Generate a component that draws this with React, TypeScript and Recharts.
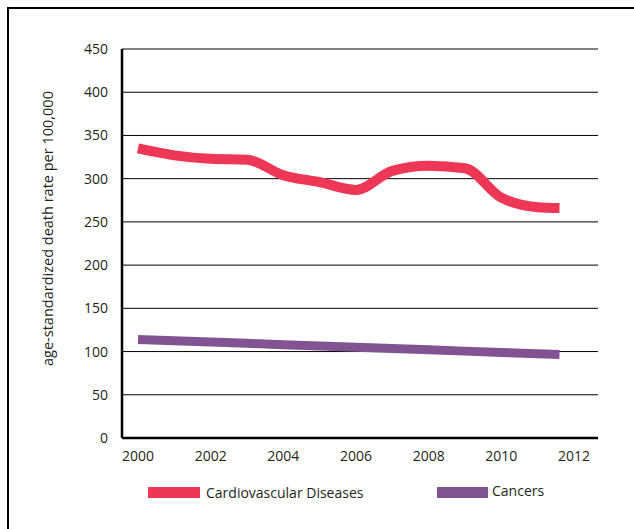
import React from "react";
import {
  LineChart,
  Line,
  XAxis,
  YAxis,
  CartesianGrid,
  Legend,
} from "recharts";

// values
const years = [2000, 2001, 2002, 2003, 2004, 2005, 2006, 2007, 2008, 2009, 2010, 2011, 2011.6];
const cardiovascular = [335, 327, 323, 322, 304, 296, 287, 309, 315, 312, 278, 267, 266];
const cancers = [114, 112.5, 111, 109.5, 108, 106.5, 105, 103.5, 102, 100.5, 99, 97.5, 96.5];
const xTicks = [2000, 2002, 2004, 2006, 2008, 2010, 2012];
const yTicks = [0, 50, 100, 150, 200, 250, 300, 350, 400, 450];

const RED = "#ee3656";
const PURPLE = "#825393";
const INK = "#231f20";
const FONT = "'Open Sans', sans-serif";

const data = years.map((year, i) => ({
  year,
  cvd: cardiovascular[i],
  cancer: cancers[i],
}));

const YLabel = (props: any) => {
  const vb = props.viewBox || { x: 0, y: 0, width: 0, height: 0 };
  const x = vb.x + 47;
  const y = vb.y + vb.height / 2 - 15;
  return (
    <text
      x={x}
      y={y}
      transform={`rotate(-90, ${x}, ${y})`}
      textAnchor="middle"
      dominantBaseline="central"
      fill={INK}
      style={{ fontFamily: FONT, fontSize: 14.5 }}
    >
      age-standardized death rate per 100,000
    </text>
  );
};

const LegendBox = () => (
  <div style={{ position: "relative", width: 634, height: 30, fontFamily: FONT, fontSize: 14, color: INK }}>
    <span style={{ position: "absolute", left: 148, top: 5, width: 52, height: 11, background: RED }} />
    <span style={{ position: "absolute", left: 206, top: 1, whiteSpace: "nowrap" }}>Cardiovascular Diseases</span>
    <span style={{ position: "absolute", left: 437, top: 5, width: 51, height: 11, background: PURPLE }} />
    <span style={{ position: "absolute", left: 492, top: -1, whiteSpace: "nowrap" }}>Cancers</span>
  </div>
);

export default function App() {
  return (
    <div style={{ position: "absolute", left: 0, top: 0, width: 634, height: 529, overflow: "hidden", background: "#fff" }}>
      <div
        style={{
          position: "absolute",
          left: 7,
          top: 7,
          width: 700,
          height: 600,
          borderLeft: "2px solid #000",
          borderTop: "2px solid #000",
        }}
      />
      <div style={{ position: "absolute", left: 0, top: 0 }}>
        <LineChart width={634} height={529} data={data} margin={{ top: 49, right: 36, bottom: 0, left: 0 }}>
          <CartesianGrid vertical={false} stroke="#000" strokeWidth={1} />
          <XAxis
            dataKey="year"
            type="number"
            domain={[1999.56, 2012.66]}
            ticks={xTicks}
            height={91}
            tickLine={false}
            tickSize={0}
            tickMargin={13}
            axisLine={{ stroke: "#000", strokeWidth: 2.5 }}
            tick={{ fill: INK, fontSize: 14, fontFamily: FONT }}
            allowDataOverflow
          />
          <YAxis
            type="number"
            domain={[0, 450]}
            ticks={yTicks}
            width={122}
            tickLine={false}
            tickSize={0}
            tickMargin={14}
            axisLine={{ stroke: "#000", strokeWidth: 2.5 }}
            tick={{ fill: INK, fontSize: 14, fontFamily: FONT }}
            label={<YLabel />}
          />
          <Line
            type="linear"
            dataKey="cancer"
            stroke={PURPLE}
            strokeWidth={9}
            dot={false}
            activeDot={false}
            isAnimationActive={false}
          />
          <Line
            type="monotone"
            dataKey="cvd"
            stroke={RED}
            strokeWidth={10}
            dot={false}
            activeDot={false}
            isAnimationActive={false}
          />
          <Legend
            layout="horizontal"
            verticalAlign="middle"
            align="center"
            wrapperStyle={{ position: "absolute", left: 0, top: 482, width: 634 }}
            content={() => <LegendBox />}
          />
        </LineChart>
      </div>
    </div>
  );
}
